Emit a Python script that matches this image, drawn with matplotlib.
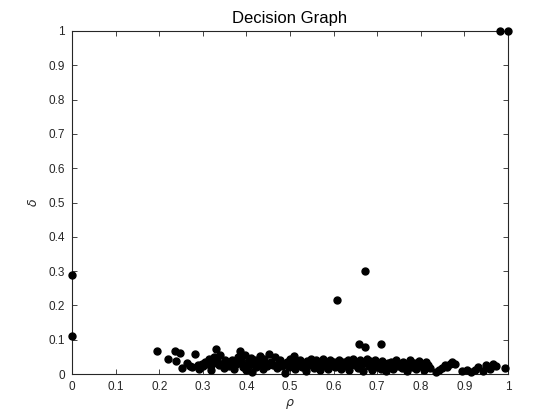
import matplotlib
matplotlib.use("Agg")
import matplotlib.pyplot as plt

plt.rcParams['font.family'] = ['Liberation Sans', 'DejaVu Sans']

# isolated points (centres and outliers)
rho_iso = [0.0, 0.0, 0.196, 0.219, 0.236, 0.248, 0.238, 0.607, 0.671, 0.659, 0.671, 0.709, 0.982, 1.0]
delta_iso = [0.29, 0.112, 0.067, 0.043, 0.067, 0.062, 0.038, 0.216, 0.299, 0.087, 0.080, 0.087, 1.0, 1.0]

# dense band near delta = 0
rho_band = [
    0.252, 0.263, 0.270, 0.275, 0.283, 0.288, 0.292, 0.297, 0.300,
    0.305, 0.310, 0.314, 0.318, 0.320, 0.325, 0.330, 0.333, 0.337, 0.340, 0.344, 0.348, 0.350,
    0.355, 0.360, 0.364, 0.368, 0.372, 0.376, 0.380, 0.385, 0.388, 0.390, 0.393, 0.396, 0.399,
    0.403, 0.406, 0.410, 0.413, 0.416, 0.420, 0.423, 0.427, 0.430, 0.434, 0.438, 0.441, 0.445, 0.448,
    0.452, 0.456, 0.460, 0.466, 0.470, 0.474, 0.478, 0.482, 0.486, 0.489, 0.493, 0.497, 0.500,
    0.504, 0.508, 0.512, 0.516, 0.520, 0.524, 0.528, 0.532, 0.536, 0.540, 0.544, 0.548,
    0.552, 0.556, 0.560, 0.564, 0.568, 0.572, 0.576, 0.580, 0.584, 0.588, 0.592, 0.596, 0.600,
    0.604, 0.608, 0.612, 0.616, 0.620, 0.624, 0.628, 0.632, 0.636, 0.640, 0.644, 0.648,
    0.652, 0.656, 0.660, 0.664, 0.668, 0.672, 0.676, 0.680, 0.684, 0.688, 0.692, 0.696, 0.700,
    0.704, 0.708, 0.712, 0.716, 0.720, 0.724, 0.728, 0.732, 0.736, 0.740, 0.744, 0.748,
    0.752, 0.756, 0.760, 0.764, 0.768, 0.772, 0.776, 0.780, 0.784, 0.788, 0.792, 0.796, 0.800,
    0.804, 0.808, 0.812, 0.816, 0.820,
    0.835, 0.842, 0.848, 0.855, 0.860, 0.866, 0.872, 0.878, 0.895, 0.905, 0.915, 0.925, 0.932,
    0.942, 0.950, 0.958, 0.965, 0.972, 0.992,
]
delta_band = [
    0.017, 0.031, 0.022, 0.020, 0.057, 0.025, 0.015, 0.030, 0.022,
    0.035, 0.028, 0.045, 0.012, 0.030, 0.050, 0.072, 0.038, 0.025, 0.055, 0.030, 0.018, 0.042,
    0.030, 0.022, 0.035, 0.040, 0.015, 0.028, 0.050, 0.067, 0.045, 0.030, 0.020, 0.055, 0.012,
    0.035, 0.025, 0.048, 0.005, 0.030, 0.040, 0.020, 0.035, 0.052, 0.028, 0.015, 0.045, 0.030, 0.022,
    0.057, 0.035, 0.025, 0.050, 0.018, 0.032, 0.040, 0.022, 0.030, 0.002, 0.035, 0.020, 0.045,
    0.028, 0.052, 0.015, 0.035, 0.025, 0.040, 0.020, 0.030, 0.010, 0.038, 0.025, 0.045,
    0.030, 0.018, 0.040, 0.028, 0.012, 0.035, 0.045, 0.022, 0.032, 0.015, 0.040, 0.025, 0.035,
    0.020, 0.030, 0.042, 0.015, 0.028, 0.035, 0.022, 0.040, 0.012, 0.030, 0.045, 0.025,
    0.035, 0.018, 0.040, 0.028, 0.010, 0.032, 0.045, 0.022, 0.038, 0.012, 0.028, 0.040, 0.020,
    0.030, 0.015, 0.038, 0.025, 0.008, 0.032, 0.020, 0.035, 0.015, 0.028, 0.040, 0.022,
    0.030, 0.018, 0.035, 0.025, 0.010, 0.030, 0.040, 0.020, 0.032, 0.015, 0.028, 0.038, 0.022,
    0.030, 0.012, 0.035, 0.025, 0.018,
    0.005, 0.012, 0.018, 0.025, 0.020, 0.030, 0.035, 0.028, 0.008, 0.012, 0.006, 0.012, 0.020,
    0.010, 0.025, 0.015, 0.030, 0.022, 0.018,
]

ticks = [0, 0.1, 0.2, 0.3, 0.4, 0.5, 0.6, 0.7, 0.8, 0.9, 1]
tick_labels = ['0', '0.1', '0.2', '0.3', '0.4', '0.5', '0.6', '0.7', '0.8', '0.9', '1']

fig = plt.figure(figsize=(5.6, 4.2), dpi=100)
ax = fig.add_axes([0.1286, 0.1095, 0.7786, 0.8167])

grey = '#262626'
ax.plot(rho_band + rho_iso, delta_band + delta_iso, 'o', ms=5,
        mfc='k', mec='k', clip_on=False, zorder=3)

ax.set_xlim(0, 1)
ax.set_ylim(0, 1)
ax.set_xticks(ticks)
ax.set_xticklabels(tick_labels)
ax.set_yticks(ticks)
ax.set_yticklabels(tick_labels)
ax.tick_params(direction='in', top=True, right=True, length=3.5, width=0.6,
               colors=grey, labelsize=8.5, pad=5)
for s in ax.spines.values():
    s.set_linewidth(0.8)
    s.set_color(grey)

ax.set_title('Decision Graph', fontsize=12, color='k', pad=6)
ax.set_xlabel(r'$\rho$', fontsize=9, color=grey, labelpad=3)
ax.set_ylabel(r'$\delta$', fontsize=9, color=grey, labelpad=6)

fig.savefig('out.png', dpi=100)
